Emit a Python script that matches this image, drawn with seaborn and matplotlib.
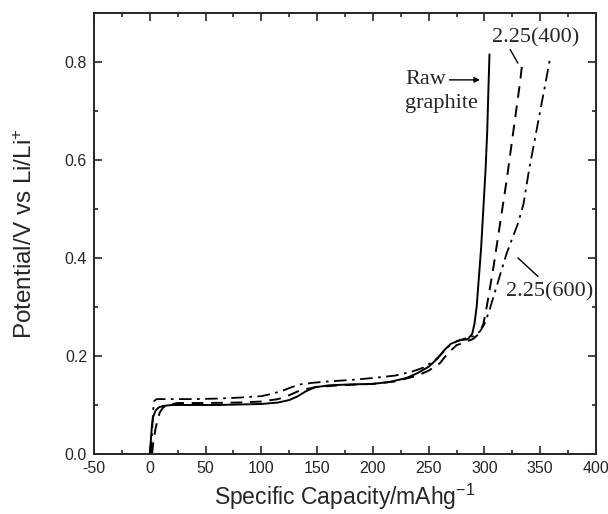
import numpy as np
import pandas as pd
import matplotlib
matplotlib.use('agg')
import seaborn as sns
import matplotlib.pyplot as plt
from matplotlib.ticker import MultipleLocator

# charge curves (capacity in mAh/g, potential in V)
raw_x = [0, 1, 2, 3, 5, 8, 12, 20, 40, 60, 80, 100, 115, 125, 132, 140, 148, 160, 180,
         200, 215, 230, 240, 250, 258, 264, 270, 278, 285, 289, 291, 293, 295, 297,
         299, 301, 302.5, 303.5, 304.5]
raw_y = [0.0, 0.03, 0.06, 0.075, 0.088, 0.095, 0.098, 0.1, 0.1, 0.1, 0.101, 0.102, 0.105,
         0.11, 0.117, 0.128, 0.136, 0.14, 0.142, 0.143, 0.147, 0.155, 0.165, 0.178,
         0.195, 0.212, 0.225, 0.232, 0.234, 0.245, 0.265, 0.3, 0.36, 0.42, 0.5,
         0.58, 0.66, 0.74, 0.815]

c400_x = [2, 3, 5, 7, 9, 12, 16, 25, 50, 80, 100, 115, 125, 135, 150, 170, 200, 220,
          240, 250, 260, 267, 275, 283, 290, 295, 299, 302, 305, 308, 312, 316, 320,
          323, 326, 329, 332, 334]
c400_y = [0.0, 0.02, 0.05, 0.07, 0.085, 0.095, 0.1, 0.104, 0.104, 0.105, 0.107, 0.112,
          0.12, 0.13, 0.137, 0.14, 0.143, 0.148, 0.16, 0.17, 0.185, 0.205, 0.222,
          0.228, 0.235, 0.245, 0.265, 0.3, 0.34, 0.38, 0.44, 0.5, 0.56, 0.61, 0.66,
          0.71, 0.76, 0.80]

c600_x = [1, 2, 3, 4, 6, 10, 20, 40, 60, 80, 100, 110, 120, 128, 135, 145, 160, 180,
          200, 220, 235, 245, 255, 262, 268, 275, 282, 290, 296, 300, 304, 308, 312,
          316, 320, 325, 330, 335, 340, 345, 350, 355, 359]
c600_y = [0.0, 0.04, 0.09, 0.108, 0.112, 0.112, 0.112, 0.112, 0.113, 0.115, 0.118,
          0.123, 0.13, 0.137, 0.142, 0.145, 0.148, 0.151, 0.155, 0.16, 0.168, 0.176,
          0.19, 0.205, 0.22, 0.23, 0.235, 0.24, 0.25, 0.265, 0.29, 0.32, 0.35, 0.38,
          0.41, 0.44, 0.47, 0.51, 0.58, 0.64, 0.7, 0.76, 0.81]

sns.set_style("ticks")
plt.rcParams['font.family'] = ['Liberation Sans', 'DejaVu Sans']
plt.rcParams['mathtext.fontset'] = 'custom'
plt.rcParams['mathtext.rm'] = 'Liberation Sans'
plt.rcParams['mathtext.default'] = 'rm'
plt.rcParams['axes.unicode_minus'] = False
plt.rcParams['xtick.direction'] = 'in'
plt.rcParams['ytick.direction'] = 'in'

fig = plt.figure(figsize=(6.08, 5.14), dpi=100)
ax = fig.add_axes([0.1546, 0.1167, 0.8257, 0.8586])

raw = pd.DataFrame({'x': raw_x, 'y': raw_y})
c400 = pd.DataFrame({'x': c400_x, 'y': c400_y})
c600 = pd.DataFrame({'x': c600_x, 'y': c600_y})

sns.lineplot(data=raw, x='x', y='y', ax=ax, color='black', lw=1.4, estimator=None)
sns.lineplot(data=c400, x='x', y='y', ax=ax, color='black', lw=1.4, estimator=None,
             linestyle=(0, (6, 4)))
sns.lineplot(data=c600, x='x', y='y', ax=ax, color='black', lw=1.3, estimator=None,
             linestyle=(0, (7, 3, 1.5, 3)))

ax.set_xlim(-50, 400)
ax.set_ylim(0, 0.9)
ax.xaxis.set_major_locator(MultipleLocator(50))
ax.xaxis.set_minor_locator(MultipleLocator(25))
ax.yaxis.set_major_locator(MultipleLocator(0.2))
ax.yaxis.set_minor_locator(MultipleLocator(0.1))
ax.tick_params(which='both', top=True, right=True, width=1.2, labelsize=11.5, pad=5)
ax.tick_params(which='major', length=6)
ax.tick_params(which='minor', length=3)
for s in ax.spines.values():
    s.set_linewidth(1.4)

ax.set_xlabel('Specific Capacity/mAhg$^{-1}$', fontsize=16.5, labelpad=4)
ax.set_ylabel('Potential/V vs Li/Li$^{+}$', fontsize=17.5, labelpad=20)

serif = ['Liberation Serif', 'DejaVu Serif']
ax.annotate('Raw', xy=(296, 0.763), xytext=(229, 0.763), fontsize=16, family=serif,
            va='center', ha='left',
            arrowprops=dict(arrowstyle='-|>', color='black', lw=1, mutation_scale=8,
                            shrinkA=0, shrinkB=0))
ax.text(229, 0.715, 'graphite', fontsize=16, family=serif, va='center', ha='left')
ax.text(307, 0.848, '2.25(400)', fontsize=16, family=serif, va='center', ha='left')
ax.plot([323, 330], [0.825, 0.797], color='black', lw=1)
ax.text(319, 0.33, '2.25(600)', fontsize=16, family=serif, va='center', ha='left')
ax.plot([330, 348], [0.40, 0.362], color='black', lw=1)

plt.savefig('out.png', dpi=100)
